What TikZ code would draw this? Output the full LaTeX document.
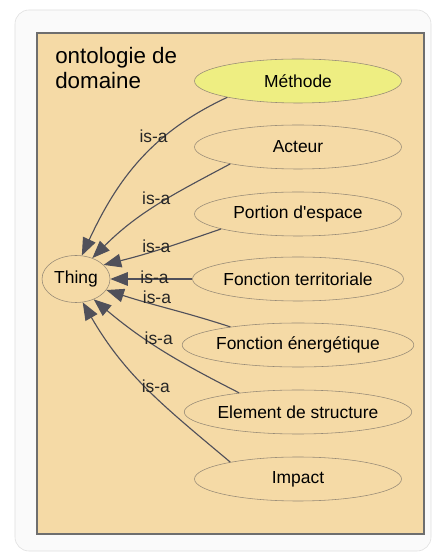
\documentclass[tikz,border=0pt]{standalone}
\usepackage{fontspec}
\setmainfont{Liberation Sans}
\usetikzlibrary{arrows.meta, shapes.geometric}
\definecolor{onto_tan}{RGB}{245,218,166}
\definecolor{onto_yellow}{RGB}{238,238,130}
\definecolor{onto_edge}{RGB}{80,80,90}
\definecolor{onto_line}{RGB}{150,138,118}
\definecolor{onto_frame}{RGB}{110,110,110}
\definecolor{onto_panel}{RGB}{250,250,250}

\begin{document}
\begin{tikzpicture}[x=0.25mm, y=0.25mm,
        every node/.style={font=\fontsize{12.4}{14}\selectfont},
        classe/.style={ellipse, draw=onto_line, fill=onto_tan, inner sep=0pt, minimum width=51.75mm, minimum height=11mm},
        classesel/.style={classe, fill=onto_yellow},
        racine/.style={classe, minimum width=17mm, minimum height=11.75mm},
        isa/.style={draw=onto_edge, line width=0.8pt, -{Triangle[length=4.4mm, width=3.4mm]}},
        lbl/.style={inner sep=0pt, text=black!85}
    ]
    \useasboundingbox[fill=white] (0,0) rectangle (435,553);
    \draw[draw=gray!25, fill=onto_panel, rounded corners=3.5mm] (15,2) rectangle (431,543);
    \draw[draw=onto_frame, fill=onto_tan, line width=0.8pt] (37,19) rectangle (424,520);
    \node[anchor=north west, align=left, inner sep=0pt, font=\fontsize{15.9}{17.8}\selectfont] (titre) at (55,506) {ontologie de\\domaine};

    \node[racine] (thing) at (76,274) {Thing};
    \node[classesel] (methode) at (298,472) {Méthode};
    \node[classe] (acteur) at (298,406) {Acteur};
    \node[classe] (portion) at (298,339) {Portion d\textquotesingle espace};
    \node[classe] (territ) at (298,274) {Fonction territoriale};
    \node[classe] (energ) at (298,208) {Fonction énergétique};
    \node[classe] (elem) at (298,141) {Element de structure};
    \node[classe] (impact) at (298,74) {Impact};

    % liens is-a vers Thing
    \draw[isa] (methode.193) to[out=205, in=65] node[lbl, pos=0.33, anchor=east, xshift=1mm] {is-a} (thing.76);
    \draw[isa] (acteur.194) to[out=208, in=45] node[lbl, pos=0.41, anchor=east, xshift=0.5mm] {is-a} (thing.52);
    \draw[isa] (portion.191) to[out=199, in=14] node[lbl, pos=0.56, yshift=1mm] {is-a} (thing.27);
    \draw[isa] (territ.west) -- node[lbl, pos=0.46, yshift=0.5mm] {is-a} (thing.east);
    \draw[isa] (energ.165) to[out=162, in=-18] node[lbl, pos=0.6, above=0.3mm] {is-a} (thing.-20);
    \draw[isa] (elem.162) to[out=153, in=-40] node[lbl, pos=0.62, anchor=west, xshift=-0.8mm, yshift=0.5mm] {is-a} (thing.-49);
    \draw[isa] (impact.166) to[out=140, in=-60] node[lbl, pos=0.52, anchor=west, xshift=-1mm] {is-a} (thing.-74);
\end{tikzpicture}
\end{document}
